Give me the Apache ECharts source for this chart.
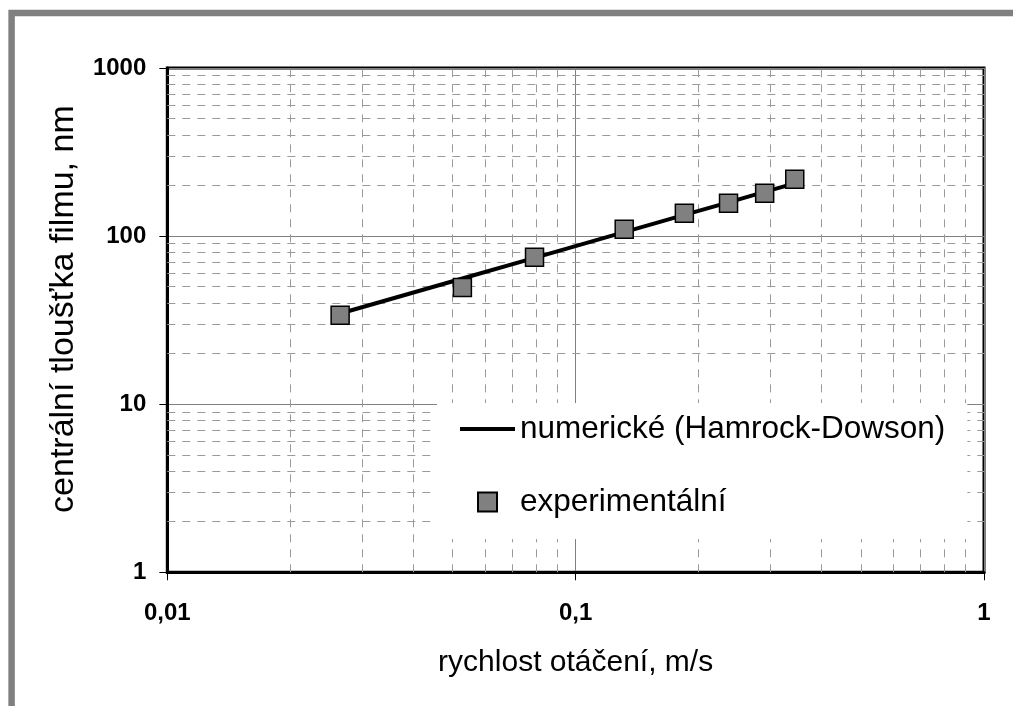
<!DOCTYPE html>
<html>
<head>
<meta charset="utf-8">
<script src="https://cdn.jsdelivr.net/npm/echarts@6/dist/echarts.min.js"></script>
<style>
html,body{margin:0;padding:0;background:#fff;}
#chart{width:1013px;height:706px;}
</style>
</head>
<body>
<div id="chart"></div>
<script>
// ---- data ----
const speed = [0.0265, 0.0528, 0.0793, 0.1315, 0.1846, 0.2368, 0.2903, 0.344];
const experimental = [33.8, 49.5, 74.8, 109.7, 136.7, 156.7, 179.7, 217.6];
const numerical = [34.6, 55.9, 74.1, 105.5, 133.5, 158.6, 183.0, 205.8];

const xTicks = [0.01, 0.1, 1];
const xTickLabels = ['0,01', '0,1', '1'];
const yTicks = [1, 10, 100, 1000];
const yTickLabels = ['1', '10', '100', '1000'];

const xDecades = [0.01, 0.1];
const yDecades = [1, 10, 100];
const minorMultipliers = [2, 3, 4, 5, 6, 7, 8, 9];

const seriesNames = ['numerické (Hamrock-Dowson)', 'experimentální'];
const xTitle = 'rychlost otáčení, m/s';
const yTitle = 'centrální tloušťka filmu, nm';

// ---- helpers ----
function minors(decades) {
  const out = [];
  decades.forEach(d => minorMultipliers.forEach(m => out.push(Number((d * m).toPrecision(6)))));
  return out;
}
function tickLabel(v, ticks, labels) {
  for (let i = 0; i < ticks.length; i++) {
    if (Math.abs(Math.log10(v) - Math.log10(ticks[i])) < 1e-6) return labels[i];
  }
  return '';
}
const FONT = '"Liberation Sans", Arial, sans-serif';
const minorStyle = { color: '#9a9a9a', width: 1, type: [8, 7] };

const chart = echarts.init(document.getElementById('chart'), null, { renderer: 'canvas' });
chart.setOption({
  animation: false,
  backgroundColor: '#fff',
  textStyle: { fontFamily: FONT },
  graphic: [{
    type: 'polyline',
    shape: { points: [[11.6, 720], [11.6, 13], [1030, 13]] },
    style: { fill: null, stroke: '#808080', lineWidth: 6.5 },
    z: 100, silent: true
  }],
  grid: {
    left: 167.3, right: 29, top: 67.9, bottom: 133.7,
    show: true, borderColor: '#000', borderWidth: 3, backgroundColor: 'transparent'
  },
  legend: {
    orient: 'vertical',
    left: 437, top: 403,
    z: 10,
    padding: [10, 22, 21, 22],
    itemGap: 41,
    itemWidth: 55, itemHeight: 19,
    backgroundColor: '#fff',
    textStyle: { fontFamily: FONT, fontSize: 31.5, color: '#000' },
    data: [
      { name: seriesNames[0], icon: 'path://M0 0M55 19M0 7.5H55V11.5H0Z' },
      { name: seriesNames[1], icon: 'path://M0 0M55 19M18 0H37V19H18Z' }
    ]
  },
  xAxis: {
    type: 'log', logBase: 10, min: 0.01, max: 1,
    name: xTitle, nameLocation: 'middle', nameGap: 75,
    nameTextStyle: { fontFamily: FONT, fontSize: 30, color: '#000' },
    axisLine: { show: true, onZero: false, lineStyle: { color: '#000', width: 3 } },
    axisTick: { show: true, inside: false, length: 8, lineStyle: { color: '#000', width: 1 } },
    axisLabel: {
      margin: 29, fontFamily: FONT, fontSize: 24, fontWeight: 'bold', color: '#000',
      formatter: v => tickLabel(v, xTicks, xTickLabels)
    },
    splitLine: { show: true, lineStyle: { color: '#808080', width: 1 } },
    minorTick: { show: false }, minorSplitLine: { show: false }
  },
  yAxis: {
    type: 'log', logBase: 10, min: 1, max: 1000,
    name: yTitle, nameLocation: 'middle', nameGap: 87, nameRotate: 90,
    nameTextStyle: { fontFamily: FONT, fontSize: 34, color: '#000', padding: [0, 0, 0, 22] },
    axisLine: { show: true, onZero: false, lineStyle: { color: '#000', width: 3 } },
    axisTick: { show: true, inside: false, length: 8, lineStyle: { color: '#000', width: 1 } },
    axisLabel: {
      margin: 21, fontFamily: FONT, fontSize: 24, fontWeight: 'bold', color: '#000',
      formatter: v => tickLabel(v, yTicks, yTickLabels)
    },
    splitLine: { show: true, lineStyle: { color: '#808080', width: 1 } },
    minorTick: { show: false }, minorSplitLine: { show: false }
  },
  series: [
    {
      name: '__grid', type: 'line', data: [], z: 1, silent: true,
      markLine: {
        z: 1,
        silent: true, symbol: 'none', animation: false,
        label: { show: false },
        lineStyle: minorStyle,
        emphasis: { disabled: true },
        data: minors(xDecades).map(v => ({ xAxis: v })).concat(minors(yDecades).map(v => ({ yAxis: v })))
      }
    },
    {
      name: seriesNames[0], type: 'line', z: 3,
      data: speed.map((x, i) => [x, numerical[i]]),
      symbol: 'none', showSymbol: false,
      lineStyle: { color: '#000', width: 4 },
      itemStyle: { color: '#000' }
    },
    {
      name: seriesNames[1], type: 'scatter', z: 4,
      data: speed.map((x, i) => [x, experimental[i]]),
      symbol: 'rect', symbolSize: 18,
      itemStyle: { color: '#808080', borderColor: '#000', borderWidth: 1.5, opacity: 1 }
    }
  ]
});
</script>
</body>
</html>
